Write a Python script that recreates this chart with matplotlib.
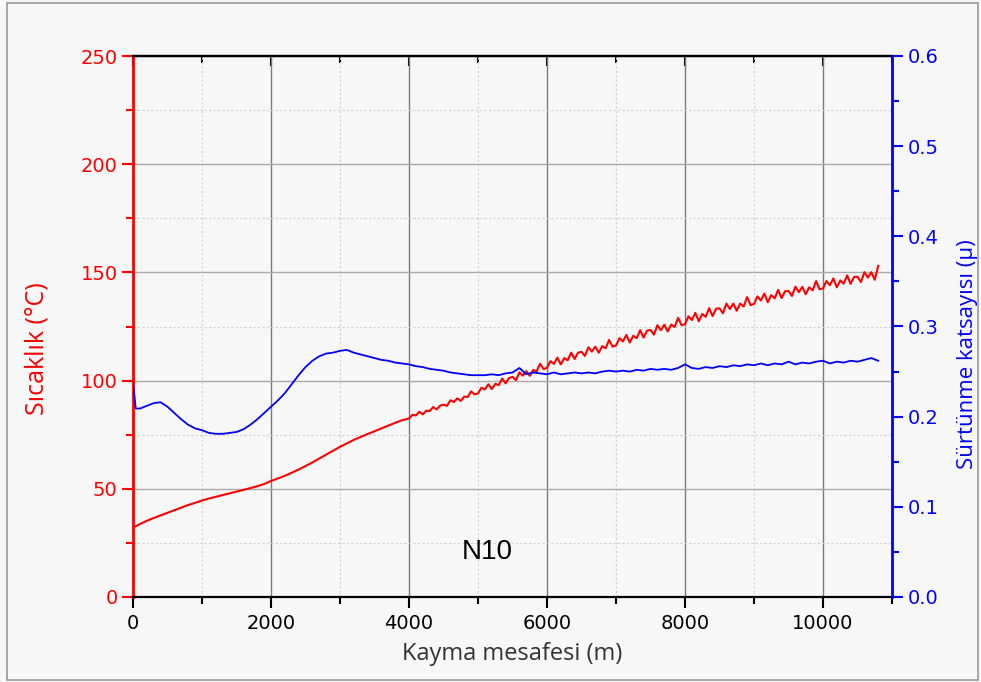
import numpy as np
import matplotlib
matplotlib.use("Agg")
import matplotlib.pyplot as plt
from matplotlib.ticker import MultipleLocator, FormatStrFormatter
from matplotlib.patches import Rectangle

# ---------------- data ----------------
# Temperature (left axis), 100 m steps 0..3900 then 50 m steps 4000..10800
temp_dist_a = np.arange(0, 4000, 100)
temp_a = [32.0, 33.7, 35.2, 36.5, 37.7, 38.9, 40.1, 41.3, 42.5, 43.5,
          44.6, 45.5, 46.3, 47.1, 47.9, 48.7, 49.5, 50.3, 51.2, 52.2,
          53.6, 54.8, 56.0, 57.4, 58.9, 60.5, 62.2, 64.0, 65.8, 67.6,
          69.4, 71.0, 72.6, 74.0, 75.3, 76.6, 77.9, 79.2, 80.5, 81.7]
temp_dist_b = np.arange(4000, 10850, 50)
temp_b = [82.5, 84.2, 83.9, 85.6, 84.4, 86.1, 85.9, 87.8, 86.7, 88.4,
          88.9, 88.3, 90.9, 90.1, 91.8, 90.6, 92.6, 92.4, 95.0, 93.6,
          94.1, 96.7, 95.9, 98.3, 96.1, 98.5, 97.9, 100.9, 98.7, 101.2,
          101.7, 100.2, 103.8, 102.3, 104.4, 102.2, 104.9, 104.3, 107.8, 105.3,
          105.9, 109.0, 107.7, 110.6, 107.5, 110.4, 109.4, 112.9, 110.0, 112.9,
          113.3, 111.4, 115.4, 113.4, 115.7, 112.9, 115.9, 114.9, 118.8, 115.7,
          116.2, 119.6, 118.1, 121.1, 117.6, 120.7, 119.6, 123.3, 119.9, 123.1,
          123.4, 121.2, 125.6, 123.3, 125.8, 122.7, 125.9, 124.8, 129.0, 125.6,
          126.1, 129.7, 128.0, 131.3, 127.4, 130.8, 129.5, 133.5, 129.8, 133.2,
          133.4, 131.1, 135.6, 133.1, 135.6, 132.3, 135.6, 134.2, 138.6, 134.9,
          135.4, 138.9, 137.0, 140.2, 136.2, 139.5, 138.0, 141.9, 138.1, 141.3,
          141.4, 139.1, 143.4, 140.9, 143.3, 139.9, 143.1, 141.7, 146.0, 142.2,
          142.6, 146.0, 144.1, 147.2, 143.1, 146.3, 144.8, 148.6, 144.7, 147.9,
          148.0, 145.5, 150.1, 147.6, 150.1, 146.6, 153.0]
temp_dist = np.concatenate([temp_dist_a, temp_dist_b])
temperature = np.array(temp_a + temp_b)

# Friction coefficient (right axis)
mu_dist = np.concatenate([[0, 40], np.arange(100, 10900, 100)])
mu = [0.238, 0.209,
      0.209, 0.212, 0.215, 0.216, 0.211, 0.204, 0.197, 0.191, 0.187,
      0.185, 0.182, 0.181, 0.181, 0.182, 0.183, 0.186, 0.191, 0.197, 0.204,
      0.211, 0.218, 0.226, 0.236, 0.246, 0.255, 0.262, 0.267, 0.270, 0.271,
      0.273, 0.274, 0.271, 0.269, 0.267, 0.265, 0.263, 0.262, 0.260, 0.259,
      0.258, 0.256, 0.255, 0.253, 0.252, 0.251, 0.249, 0.248, 0.247, 0.246,
      0.246, 0.246, 0.247, 0.246, 0.248, 0.249, 0.254, 0.247, 0.249, 0.248,
      0.247, 0.249, 0.247, 0.248, 0.249, 0.248, 0.249, 0.248, 0.250, 0.251,
      0.250, 0.251, 0.250, 0.252, 0.251, 0.253, 0.252, 0.253, 0.252, 0.254,
      0.258, 0.254, 0.253, 0.255, 0.254, 0.256, 0.255, 0.257, 0.256, 0.258,
      0.257, 0.259, 0.257, 0.259, 0.258, 0.261, 0.258, 0.260, 0.259, 0.261,
      0.262, 0.259, 0.261, 0.260, 0.262, 0.261, 0.263, 0.265, 0.262]

x_label = "Kayma mesafesi (m)"
y1_label = "Sıcaklık (°C)"
y2_label = "Sürtünme katsayısı (μ)"
annotation = "N10"

# ---------------- figure ----------------
RED = "#ff0000"
BLUE = "#0000ff"
BG = "#f7f7f7"
plt.rcParams["font.family"] = ["DejaVu Sans"]

fig = plt.figure(figsize=(9.81, 6.82), dpi=100, facecolor=BG)
fig.patches.append(Rectangle((7/981, 2/682), 971/981, 677/682, transform=fig.transFigure,
                             fill=False, edgecolor="#9a9a9a", lw=1.2))
ax = fig.add_axes([133/981, 85/682, 759/981, 541/682])
ax.set_facecolor(BG)

ax.set_xlim(0, 11000)
ax.set_ylim(0, 250)

ax.xaxis.set_major_locator(MultipleLocator(2000))
ax.xaxis.set_minor_locator(MultipleLocator(1000))
ax.yaxis.set_major_locator(MultipleLocator(50))
ax.yaxis.set_minor_locator(MultipleLocator(25))

ax.xaxis.grid(True, which="major", color="#7a7a7a", lw=1.0)
ax.yaxis.grid(True, which="major", color="#aaaaaa", lw=1.0)
ax.grid(which="minor", color="#d0d0d0", lw=0.8, linestyle=(0, (2, 2)))
ax.set_axisbelow(True)
for tick in ax.xaxis.get_major_ticks():
    if abs(tick.get_loc() - 2000) < 1:
        tick.gridline.set_color("#1a1a1a")

ax.plot(temp_dist, temperature, color=RED, lw=1.5)

TICK_SIZE = 14
lab_font = ["Open Sans", "DejaVu Sans"]

ax.tick_params(axis="y", which="major", colors=RED, length=8, width=1.5,
               direction="out", labelsize=TICK_SIZE, pad=3)
ax.tick_params(axis="y", which="minor", colors=RED, length=5, width=1.5, direction="out")
ax.tick_params(axis="x", which="major", length=8, width=1.5, direction="out",
               colors="black", labelsize=TICK_SIZE, pad=4)
ax.tick_params(axis="x", which="minor", length=5, width=1.5, direction="out", colors="black")

ax.spines["left"].set_color(RED)
ax.spines["left"].set_linewidth(2)
ax.spines["bottom"].set_linewidth(1.6)
ax.spines["top"].set_linewidth(1.6)

# top ticks pointing inward
sec = ax.secondary_xaxis("top")
sec.xaxis.set_major_locator(MultipleLocator(2000))
sec.xaxis.set_minor_locator(MultipleLocator(1000))
sec.tick_params(which="major", direction="in", length=7, width=1.5, labeltop=False)
sec.tick_params(which="minor", direction="in", length=5, width=1.5, labeltop=False)
sec.spines["top"].set_linewidth(1.6)

ax.set_xlabel(x_label, fontsize=17, family=lab_font, color="#333333", labelpad=7)
ax.set_ylabel(y1_label, fontsize=18, family=lab_font, color=RED)
ax.yaxis.set_label_coords((49 - 133) / 759, 0.46)

ax.text(5130, 20.8, annotation, ha="center", va="center", fontsize=20,
        family=["Liberation Sans", "DejaVu Sans"], color="black")

# right axis
ax2 = ax.twinx()
ax2.set_ylim(0, 0.6)
ax2.yaxis.set_major_locator(MultipleLocator(0.1))
ax2.yaxis.set_minor_locator(MultipleLocator(0.05))
ax2.yaxis.set_major_formatter(FormatStrFormatter("%.1f"))
ax2.plot(mu_dist, mu, color=BLUE, lw=1.3)
ax2.tick_params(axis="y", which="major", colors=BLUE, length=8, width=1.5,
                direction="out", labelsize=TICK_SIZE, pad=3)
ax2.tick_params(axis="y", which="minor", colors=BLUE, length=5, width=1.5, direction="out")
ax2.spines["right"].set_color(BLUE)
ax2.spines["right"].set_linewidth(2)
ax2.spines["left"].set_visible(False)
ax2.spines["top"].set_visible(False)
ax2.spines["bottom"].set_visible(False)
ax2.set_ylabel(y2_label, fontsize=16, family=lab_font, color=BLUE)
ax2.yaxis.set_label_coords((957 - 133) / 759, 0.449)

fig.savefig("out.png", dpi=100, facecolor=BG)
